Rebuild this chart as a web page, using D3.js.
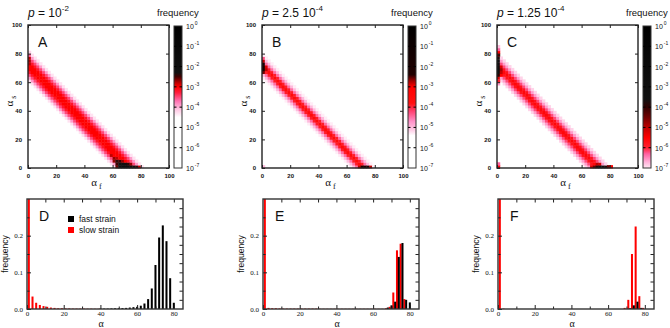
<!DOCTYPE html>
<html>
<head>
<meta charset="utf-8">
<script src="https://cdn.jsdelivr.net/npm/d3@7"></script>
<style>
    body { margin: 0; background: #fff; }
    text { font-family: "Liberation Sans", Arial, sans-serif; fill: #111; }
    .serif { font-family: "Liberation Serif", "Times New Roman", serif; }
</style>
</head>
<body>
<svg id="SVG_CONTAINER" width="670" height="328"></svg>
<script>
window.onload = function(){
    setup();
};

//** DATA *****************************************
const heatLetters = ["A", "B", "C"];
const histLetters = ["D", "E", "F"];
const pMantissa = ["10", "2.5 10", "1.25 10"];
const pExponent = ["-2", "-4", "-4"];

const heatTicks = [0, 20, 40, 60, 80, 100];
const cbarExponents = [0, -1, -2, -3, -4, -5, -6, -7];
const histXTicks = [0, 20, 40, 60, 80];
const histYTicks = [0.0, 0.1, 0.2];

// 2D histograms (bins of 2): log10 frequency across the band, for diagonal bin d = i + j
const bandStart = [30, 31, 31];
const bandProfileA = [-4.3, -3.9, -3.5, -3.2, -3.0, -3.0, -3.0, -3.2, -3.5, -3.9, -4.3];
const bandProfileB = [-5.3, -5.0, -4.5, -3.9, -3.5, -3.9, -4.5, -5.0, -5.3];
const bandProfileC = [-6.9, -6.6, -6.2, -5.8, -5.6, -5.8, -6.2, -6.6, -6.9];

// cells standing out from the band: [alpha_f, alpha_s, log10 frequency]
const hotCellsA = [
    [0, 72, -2.8], [0, 74, -2.75], [0, 76, -2.8], [0, 78, -3.6], [0, 80, -4.2],
    [62, 0, -2.6], [64, 0, -2.2], [66, 0, -2.0], [68, 0, -2.0], [70, 0, -2.0], [72, 0, -2.0], [74, 0, -2.1], [76, 0, -2.4], [78, 0, -2.8],
    [62, 2, -2.5], [64, 2, -2.2], [66, 2, -2.1], [68, 2, -2.2], [70, 2, -2.4], [72, 2, -2.7],
    [60, 4, -2.7], [62, 4, -2.4], [64, 4, -2.5], [66, 4, -2.7],
    [60, 6, -2.7], [62, 6, -2.8], [58, 8, -2.8]
];
const hotCellsB = [
    [0, 66, -2.6], [0, 68, -2.2], [0, 70, -2.0], [0, 72, -2.3], [0, 74, -2.8], [0, 76, -4.3],
    [2, 68, -2.8], [2, 70, -2.9],
    [68, 0, -2.8], [70, 0, -2.3], [72, 0, -2.1], [74, 0, -2.3], [76, 0, -2.8],
    [0, 0, -5.0]
];
const hotCellsC = [
    [0, 58, -6.6], [0, 60, -6.0], [0, 62, -5.2], [0, 64, -4.0], [0, 66, -3.5], [0, 68, -3.3], [0, 70, -3.3],
    [0, 72, -3.4], [0, 74, -3.5], [0, 76, -3.7], [0, 78, -4.2], [0, 80, -5.5], [0, 82, -6.3], [0, 84, -6.8],
    [2, 64, -5.5], [2, 66, -5.0], [2, 68, -4.8], [2, 70, -5.2],
    [66, 0, -5.2], [68, 0, -4.5], [70, 0, -3.8], [72, 0, -3.5], [74, 0, -3.5], [76, 0, -3.8], [78, 0, -4.5], [80, 0, -5.5],
    [70, 2, -5.0], [72, 2, -5.2],
    [0, 0, -5.6], [0, 2, -6.3]
];

// 1D histograms: fast strain at even alpha, slow strain at odd alpha
const fastAlpha = d3.range(0, 86, 2);
const slowAlpha = d3.range(1, 86, 2);

const fastD = [0, 0, 0, 0, 0, 0, 0, 0, 0, 0, 0, 0, 0, 0, 0, 0, 0, 0, 0, 0,
    0.001, 0.001, 0.001, 0.0015, 0.002, 0.002, 0.0025, 0.003, 0.004, 0.005,
    0.006, 0.009, 0.015, 0.027, 0.056, 0.12, 0.195, 0.228, 0.185, 0.084, 0.017, 0, 0];
const slowD = [0.40, 0.034, 0.017, 0.011, 0.008, 0.006, 0.004, 0.003, 0.002, 0.002,
    0.0015, 0.0015, 0.001, 0.001, 0.001, 0.001, 0.0008, 0.0008, 0.0006, 0.0005,
    0, 0, 0, 0, 0, 0, 0, 0, 0, 0, 0, 0, 0, 0, 0, 0, 0, 0, 0, 0, 0, 0, 0];

const fastE = [0, 0, 0, 0, 0, 0, 0, 0, 0, 0, 0, 0, 0, 0, 0, 0, 0, 0, 0, 0,
    0, 0, 0, 0, 0, 0, 0, 0, 0, 0, 0, 0, 0, 0,
    0.004, 0.01, 0.02, 0.142, 0.18, 0.025, 0.018, 0, 0];
const slowE = [0.40, 0.003, 0.002, 0.002, 0.0015, 0.001,
    0.001, 0.001, 0.001, 0.001, 0.001, 0.001, 0.001, 0.001, 0.001,
    0.0005, 0.0005, 0.0005, 0.0005, 0.0005, 0.0005, 0.0005, 0.0005, 0.0005,
    0.0005, 0.0005, 0.0005, 0.0005, 0.0005, 0.0005, 0.0005, 0.0005, 0.0005,
    0.002, 0.006, 0.045, 0.16, 0.178, 0.027, 0, 0, 0, 0];

const fastF = [0, 0, 0, 0, 0, 0, 0, 0, 0, 0, 0, 0, 0, 0, 0, 0, 0, 0, 0, 0,
    0, 0, 0, 0, 0, 0, 0, 0, 0, 0, 0, 0, 0, 0, 0, 0,
    0.002, 0.01, 0.02, 0.003, 0, 0, 0];
const slowF = [0.40, 0.001,
    0, 0, 0, 0, 0, 0, 0, 0, 0, 0, 0, 0, 0, 0, 0, 0,
    0, 0, 0, 0, 0, 0, 0, 0, 0, 0, 0, 0, 0, 0, 0, 0,
    0.003, 0.025, 0.15, 0.225, 0.035, 0.003, 0, 0, 0];

//** LAYOUT + STYLE *****************************************
const HEAT = { X: [28, 262, 497], W: 141, TOP: 25, BOTTOM: 168 };
const CBAR = { GAP: 5, W: 8, TOP: 26, BOTTOM: 168 };
const HIST = { X: [27, 263, 498], W: 156, TOP: 199, BOTTOM: 309 };

const colourStops = [
    [[-7, "#ffffff"], [-4.5, "#ffffff"], [-4.1, "#ffc4e2"], [-3.7, "#ff72b2"], [-3.3, "#ff2040"], [-3.0, "#ff0000"],
     [-2.8, "#c00000"], [-2.5, "#400000"], [-2.3, "#111111"], [0, "#000000"]],
    [[-7, "#ffffff"], [-5.4, "#ffffff"], [-5.1, "#ffc8e4"], [-4.7, "#ff90c8"], [-4.2, "#ff4070"], [-3.8, "#ff1010"],
     [-3.0, "#ff0000"], [-2.7, "#a00000"], [-2.4, "#200000"], [0, "#000000"]],
    [[-7, "#ffe6f2"], [-6.7, "#ffb0d8"], [-6.3, "#ff60a0"], [-6.0, "#ff2030"], [-5.5, "#ff0000"], [-5.0, "#c00000"],
     [-4.5, "#700000"], [-4.0, "#300000"], [-3.6, "#111111"], [0, "#000000"]]
];

const bandProfiles = [bandProfileA, bandProfileB, bandProfileC];
const hotCells = [hotCellsA, hotCellsB, hotCellsC];
const fastSeries = [fastD, fastE, fastF];
const slowSeries = [slowD, slowE, slowF];

setup = function () {
    let SVG = d3.select("#SVG_CONTAINER");
    for (let k = 0; k < 3; k++) {
        heatmap(SVG, k);
        histogram(SVG, k);
    }
};

/**
 * 2D histogram with its colour bar
 */
heatmap = function (svg, k) {
    let x0 = HEAT.X[k];
    let chart = svg.append("g").attr("class", "heatmap");

    let xScale = d3.scaleLinear().domain([0, 100]).range([x0, x0 + HEAT.W]);
    let yScale = d3.scaleLinear().domain([0, 100]).range([HEAT.BOTTOM, HEAT.TOP]);

    let stops = colourStops[k];
    let colourScale = d3.scaleLinear()
        .domain(stops.map(s => s[0]))
        .range(stops.map(s => s[1]))
        .clamp(true);

    //build the cells from the band profile and the hot cells
    let cells = new Map();
    let prof = bandProfiles[k];
    for (let i = 0; i < 50; i++) {
        for (let n = 0; n < prof.length; n++) {
            let j = bandStart[k] + n - i;
            if (j < 0 || j >= 50) continue;
            cells.set(i + "," + j, { af: 2 * i, as: 2 * j, v: prof[n] });
        }
    }
    hotCells[k].forEach(c => cells.set((c[0] / 2) + "," + (c[1] / 2), { af: c[0], as: c[1], v: c[2] }));

    chart.append("g")
        .selectAll("rect")
        .data(Array.from(cells.values()))
        .enter()
        .append("rect")
        .attr("x", d => xScale(d.af))
        .attr("y", d => yScale(d.as + 2))
        .attr("width", xScale(2) - xScale(0) + 0.4)
        .attr("height", yScale(0) - yScale(2) + 0.4)
        .style("fill", d => colourScale(d.v));

    //axes, ticks pointing inwards
    let tickFont = g => g.selectAll("text").style("font-size", "6px").style("font-weight", "bold").attr("fill", "#222");
    chart.append("g")
        .attr("transform", "translate(0," + HEAT.BOTTOM + ")")
        .call(d3.axisBottom(xScale).tickValues(heatTicks).tickSizeInner(-3).tickSizeOuter(0).tickPadding(6))
        .call(tickFont);
    chart.append("g")
        .attr("transform", "translate(" + x0 + ",0)")
        .call(d3.axisLeft(yScale).tickValues(heatTicks).tickSizeInner(-3).tickSizeOuter(0).tickPadding(6))
        .call(tickFont);
    chart.append("g")
        .attr("transform", "translate(0," + HEAT.TOP + ")")
        .call(d3.axisTop(xScale).tickValues(heatTicks).tickSizeInner(-3).tickSizeOuter(0).tickFormat(""));
    chart.append("g")
        .attr("transform", "translate(" + (x0 + HEAT.W) + ",0)")
        .call(d3.axisRight(yScale).tickValues(heatTicks).tickSizeInner(-3).tickSizeOuter(0).tickFormat(""));
    chart.selectAll(".domain").remove();
    chart.selectAll(".tick line").attr("stroke", "#222").attr("stroke-width", 1);

    chart.append("rect")
        .attr("x", x0).attr("y", HEAT.TOP)
        .attr("width", HEAT.W).attr("height", HEAT.BOTTOM - HEAT.TOP)
        .attr("fill", "none").attr("stroke", "#222").attr("stroke-width", 1.4);

    //axis labels
    let yl = chart.append("text")
        .attr("class", "serif")
        .attr("transform", "translate(" + (x0 - 15) + "," + 101 + ") rotate(-90)")
        .attr("text-anchor", "middle")
        .style("font-size", "11px");
    yl.append("tspan").text("α");
    yl.append("tspan").attr("dx", 2).attr("dy", 3).style("font-size", "8px").text("s");

    let xl = chart.append("text")
        .attr("class", "serif")
        .attr("x", xScale(50) - 2).attr("y", 186)
        .attr("text-anchor", "middle")
        .style("font-size", "11px");
    xl.append("tspan").text("α");
    xl.append("tspan").attr("dx", 2).attr("dy", 3).style("font-size", "8px").text("f");

    //panel letter
    chart.append("text")
        .attr("x", x0 + 10).attr("y", 47)
        .style("font-size", "14px")
        .text(heatLetters[k]);

    //title
    let title = chart.append("text")
        .attr("x", x0).attr("y", 17)
        .style("font-size", "12px");
    title.append("tspan").style("font-style", "italic").text("p");
    title.append("tspan").text(" = " + pMantissa[k]);
    title.append("tspan").attr("dy", -6).style("font-size", "8px").text(pExponent[k]);

    chart.append("text")
        .attr("x", x0 + 129).attr("y", 16)
        .style("font-size", "9.5px")
        .text("frequency");

    //** COLOUR BAR *****************************************
    let cx = x0 + HEAT.W + CBAR.GAP;
    //gradient runs top (10^0) to bottom (10^-7), stops in increasing offset
    let grad = svg.append("defs")
        .append("linearGradient")
        .attr("id", "cbar-gradient-" + k)
        .attr("x1", "0%").attr("y1", "0%")
        .attr("x2", "0%").attr("y2", "100%");
    grad.selectAll("stop")
        .data(stops.slice().reverse())
        .enter().append("stop")
        .attr("offset", d => (-d[0] / 7))
        .attr("stop-color", d => d[1]);

    chart.append("rect")
        .attr("x", cx).attr("y", CBAR.TOP)
        .attr("width", CBAR.W).attr("height", CBAR.BOTTOM - CBAR.TOP)
        .style("fill", "url(#cbar-gradient-" + k + ")")
        .attr("stroke", "#333").attr("stroke-width", 1);

    let cScale = d3.scaleLinear().domain([-7, 0]).range([CBAR.BOTTOM, CBAR.TOP]);
    let cTicks = chart.append("g").selectAll("g")
        .data(cbarExponents)
        .enter().append("g")
        .attr("transform", d => "translate(0," + cScale(d) + ")");
    cTicks.filter(d => d > -7 && d < 0).append("line")
        .attr("x1", cx).attr("x2", cx + 2.5)
        .attr("stroke", "#000").attr("stroke-width", 1);
    cTicks.filter(d => d > -7 && d < 0).append("line")
        .attr("x1", cx + CBAR.W - 2.5).attr("x2", cx + CBAR.W)
        .attr("stroke", "#000").attr("stroke-width", 1);
    let cLab = cTicks.append("text")
        .attr("x", cx + CBAR.W + 4).attr("y", 3)
        .style("font-size", "7px");
    cLab.append("tspan").text("10");
    cLab.append("tspan").attr("dx", 1).attr("dy", -4).style("font-size", "5px").text(d => d === 0 ? "0" : d);
};

/**
 * 1D histogram of fast and slow strains
 */
histogram = function (svg, k) {
    let x0 = HIST.X[k];
    let chart = svg.append("g").attr("class", "histogram");

    let xScale = d3.scaleLinear().domain([0, 85]).range([x0, x0 + HIST.W]);
    let yScale = d3.scaleLinear().domain([0, 0.3]).range([HIST.BOTTOM, HIST.TOP]);

    chart.append("clipPath").attr("id", "hist-clip-" + k)
        .append("rect")
        .attr("x", x0).attr("y", HIST.TOP)
        .attr("width", HIST.W).attr("height", HIST.BOTTOM - HIST.TOP);

    let bars = chart.append("g").attr("clip-path", "url(#hist-clip-" + k + ")");
    let barW = xScale(1.1) - xScale(0);

    bars.selectAll(".slow")
        .data(slowSeries[k].map((v, i) => ({ a: slowAlpha[i], v: v })).filter(d => d.v > 0))
        .enter().append("rect")
        .attr("class", "slow")
        .attr("x", d => xScale(d.a) - barW / 2)
        .attr("y", d => yScale(d.v))
        .attr("width", barW)
        .attr("height", d => Math.max(0.6, yScale(0) - yScale(d.v)))
        .style("fill", "#ff0000");

    bars.selectAll(".fast")
        .data(fastSeries[k].map((v, i) => ({ a: fastAlpha[i], v: v })).filter(d => d.v > 0))
        .enter().append("rect")
        .attr("class", "fast")
        .attr("x", d => xScale(d.a) - barW / 2)
        .attr("y", d => yScale(d.v))
        .attr("width", barW)
        .attr("height", d => Math.max(0.6, yScale(0) - yScale(d.v)))
        .style("fill", "#000");

    //axes
    let tickFont = g => g.selectAll("text").attr("class", "serif").style("font-size", "7px").attr("fill", "#222");
    chart.append("g")
        .attr("transform", "translate(0," + HIST.BOTTOM + ")")
        .call(d3.axisBottom(xScale).tickValues(histXTicks).tickSizeInner(-4).tickSizeOuter(0).tickPadding(2))
        .call(tickFont);
    chart.append("g")
        .attr("transform", "translate(0," + HIST.BOTTOM + ")")
        .call(d3.axisBottom(xScale).tickValues([10, 30, 50, 70]).tickSizeInner(-2.5).tickSizeOuter(0).tickFormat(""));
    chart.append("g")
        .attr("transform", "translate(0," + HIST.TOP + ")")
        .call(d3.axisTop(xScale).tickValues(d3.range(10, 85, 10)).tickSizeInner(-3.5).tickSizeOuter(0).tickFormat(""));
    chart.append("g")
        .attr("transform", "translate(" + x0 + ",0)")
        .call(d3.axisLeft(yScale).tickValues(histYTicks).tickSizeInner(-4).tickSizeOuter(0).tickPadding(4).tickFormat(d3.format(".1f")))
        .call(tickFont);
    chart.append("g")
        .attr("transform", "translate(" + x0 + ",0)")
        .call(d3.axisLeft(yScale).tickValues([0.05, 0.15, 0.25]).tickSizeInner(-2.5).tickSizeOuter(0).tickFormat(""));
    chart.append("g")
        .attr("transform", "translate(" + (x0 + HIST.W) + ",0)")
        .call(d3.axisRight(yScale).tickValues(d3.range(0.025, 0.3, 0.025)).tickSizeInner(-3.5).tickSizeOuter(0).tickFormat(""));
    chart.selectAll(".domain").remove();
    chart.selectAll(".tick line").attr("stroke", "#222").attr("stroke-width", 1);

    chart.append("rect")
        .attr("x", x0).attr("y", HIST.TOP)
        .attr("width", HIST.W).attr("height", HIST.BOTTOM - HIST.TOP)
        .attr("fill", "none").attr("stroke", "#333").attr("stroke-width", 1.4);

    //labels
    chart.append("text")
        .attr("transform", "translate(" + (x0 - 19) + "," + 254 + ") rotate(-90)")
        .attr("text-anchor", "middle")
        .style("font-size", "8.5px")
        .text("frequency");
    chart.append("text")
        .attr("class", "serif")
        .attr("x", x0 + 74).attr("y", 327)
        .attr("text-anchor", "middle")
        .style("font-size", "10px")
        .text("α");

    chart.append("text")
        .attr("x", x0 + 12).attr("y", 221)
        .style("font-size", "14px")
        .text(histLetters[k]);

    //legend
    if (k === 0) {
        let legend = [["fast strain", "#000"], ["slow strain", "#ff0000"]];
        legend.forEach(function (l, i) {
            chart.append("rect")
                .attr("x", x0 + 41).attr("y", 216 + i * 11)
                .attr("width", 6).attr("height", 6)
                .style("fill", l[1]);
            chart.append("text")
                .attr("x", x0 + 52).attr("y", 222 + i * 11)
                .style("font-size", "8.5px")
                .text(l[0]);
        });
    }
};
</script>
</body>
</html>
